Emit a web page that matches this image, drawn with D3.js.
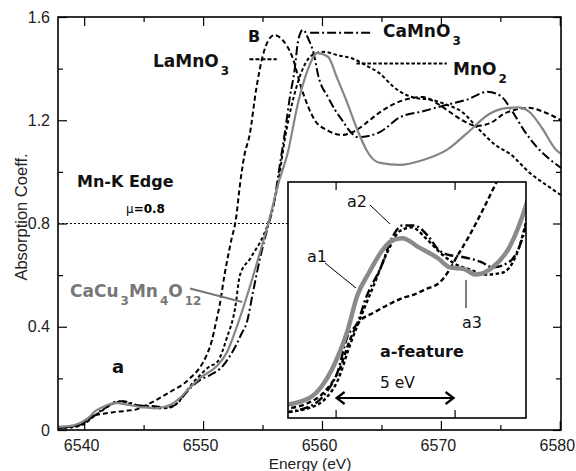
<!DOCTYPE html>
<html>
<head>
<meta charset="utf-8">
<script src="https://cdn.jsdelivr.net/npm/d3@7"></script>
<style>
  body { margin: 0; background: #fff; }
</style>
</head>
<body>
<div id="chart"></div>
<script>
const width = 576
const height = 471
const plot = { left: 58, right: 561, top: 17, bottom: 430 }
const box = { left: 288, right: 526, top: 182, bottom: 418 }

// [energy (eV), absorption]
const laMnO3 = [
  [6537.8, 0.010], [6538.8, 0.013], [6539.5, 0.019], [6540.2, 0.033], [6540.6, 0.048],
  [6541.0, 0.058], [6541.6, 0.063], [6542.3, 0.068], [6542.8, 0.071], [6543.3, 0.073],
  [6543.8, 0.076], [6544.4, 0.080], [6544.8, 0.087], [6545.1, 0.094], [6545.6, 0.105],
  [6546.2, 0.120], [6546.8, 0.136], [6547.5, 0.155], [6548.3, 0.177], [6549.0, 0.205],
  [6549.7, 0.240], [6550.3, 0.290], [6550.7, 0.340], [6551.1, 0.420], [6551.4, 0.485],
  [6551.8, 0.600], [6552.3, 0.720], [6552.8, 0.830], [6553.1, 0.950], [6553.5, 1.070],
  [6553.9, 1.140], [6554.5, 1.330], [6555.0, 1.446], [6555.5, 1.510], [6556.0, 1.530],
  [6556.7, 1.510], [6557.5, 1.446], [6558.3, 1.320], [6559.4, 1.200], [6560.5, 1.160],
  [6561.7, 1.143], [6563.0, 1.165], [6564.0, 1.200], [6565.0, 1.235], [6567.0, 1.280],
  [6568.5, 1.290], [6569.5, 1.270], [6570.5, 1.240], [6571.8, 1.200], [6573.0, 1.178],
  [6574.2, 1.190], [6575.3, 1.225], [6576.2, 1.240], [6577.4, 1.248], [6578.5, 1.235],
  [6580.1, 1.200]
]
const caMnO3 = [
  [6537.8, 0.008], [6539.0, 0.012], [6539.6, 0.019], [6540.1, 0.031], [6540.5, 0.050],
  [6540.9, 0.057], [6541.3, 0.072], [6541.9, 0.088], [6542.4, 0.105], [6542.8, 0.111],
  [6543.3, 0.111], [6543.9, 0.105], [6544.3, 0.098], [6544.7, 0.095], [6545.2, 0.094],
  [6546.1, 0.091], [6546.6, 0.088], [6547.3, 0.091], [6547.8, 0.102], [6548.5, 0.140],
  [6549.1, 0.170], [6549.8, 0.195], [6550.6, 0.213], [6551.7, 0.250], [6552.3, 0.290],
  [6552.8, 0.330], [6553.2, 0.370], [6553.7, 0.420], [6554.2, 0.535], [6554.8, 0.667],
  [6555.5, 0.795], [6555.9, 0.864], [6556.4, 1.010], [6556.9, 1.160], [6557.3, 1.290],
  [6557.7, 1.395], [6558.0, 1.510], [6558.4, 1.550], [6558.9, 1.510], [6559.3, 1.460],
  [6559.7, 1.370], [6560.5, 1.290], [6561.1, 1.240], [6561.7, 1.200], [6562.3, 1.160],
  [6563.0, 1.135], [6563.8, 1.138], [6564.9, 1.155], [6566.5, 1.210], [6568.5, 1.235],
  [6570.5, 1.260], [6572.2, 1.280], [6573.9, 1.310], [6575.0, 1.295], [6576.0, 1.235],
  [6577.0, 1.160], [6578.0, 1.100], [6579.0, 1.055], [6580.1, 1.015]
]
const mnO2 = [
  [6537.8, 0.008], [6539.0, 0.011], [6539.6, 0.016], [6540.1, 0.026], [6540.6, 0.045],
  [6541.1, 0.062], [6541.6, 0.078], [6542.2, 0.097], [6542.7, 0.108], [6543.2, 0.110],
  [6543.8, 0.104], [6544.4, 0.096], [6545.0, 0.090], [6545.6, 0.087], [6546.3, 0.084],
  [6547.0, 0.085], [6547.6, 0.095], [6548.3, 0.130], [6549.0, 0.175], [6549.7, 0.210],
  [6550.5, 0.245], [6551.2, 0.264], [6552.0, 0.357], [6552.7, 0.473], [6553.1, 0.600],
  [6554.0, 0.667], [6555.5, 0.806], [6556.2, 0.930], [6557.0, 1.160], [6557.8, 1.320],
  [6558.6, 1.420], [6559.5, 1.460], [6560.1, 1.465], [6561.5, 1.450], [6562.5, 1.440],
  [6563.8, 1.410], [6564.9, 1.380], [6566.0, 1.330], [6567.0, 1.300], [6568.0, 1.285],
  [6569.1, 1.280], [6570.5, 1.260], [6571.7, 1.235], [6573.3, 1.160], [6574.7, 1.100],
  [6575.8, 1.070], [6577.5, 0.995], [6579.0, 0.945], [6580.1, 0.910]
]
const caCu3Mn4O12 = [
  [6537.8, 0.012], [6538.9, 0.016], [6539.5, 0.024], [6540.0, 0.036], [6540.5, 0.053],
  [6540.9, 0.072], [6541.4, 0.085], [6542.0, 0.098], [6542.4, 0.103], [6542.8, 0.104],
  [6543.5, 0.099], [6544.3, 0.093], [6544.8, 0.088], [6545.4, 0.087], [6545.9, 0.084],
  [6546.6, 0.088], [6547.3, 0.099], [6548.0, 0.122], [6548.6, 0.150], [6549.7, 0.200],
  [6551.2, 0.250], [6552.0, 0.300], [6552.8, 0.395], [6553.7, 0.520], [6554.8, 0.690],
  [6555.6, 0.820], [6556.3, 0.950], [6557.1, 1.070], [6558.0, 1.270], [6558.8, 1.395],
  [6559.6, 1.460], [6560.5, 1.446], [6561.3, 1.360], [6562.1, 1.270], [6563.0, 1.160],
  [6563.8, 1.080], [6564.4, 1.045], [6564.9, 1.035], [6566.5, 1.027], [6568.5, 1.046],
  [6570.5, 1.085], [6572.2, 1.150], [6574.1, 1.225], [6575.2, 1.245], [6576.5, 1.250],
  [6577.5, 1.230], [6578.5, 1.170], [6579.7, 1.085], [6580.1, 1.070]
]

const xTicksMajor = [6540, 6550, 6560, 6570, 6580]
const xTicksMinor = [6545, 6555, 6565, 6575]
const yTicksMajor = [0, 0.4, 0.8, 1.2, 1.6]
const yTicksMinor = [0.2, 0.6, 1.0, 1.4]
const insetTicks = [6540, 6545]
const edgeLevel = 0.8

const labelFont = "'DejaVu Sans', sans-serif"
const tickFont = "'Liberation Sans', Arial, sans-serif"

const x = d3.scaleLinear([6537.8, 6580.1], [plot.left, plot.right])
const y = d3.scaleLinear([0, 1.6], [plot.bottom, plot.top])
const ix = d3.scaleLinear([6538, 6548], [box.left, box.right])
const iy = d3.scaleLinear([0.005, 0.135], [box.bottom, box.top])

const series = [
  { data: laMnO3, color: "#000", dash: "5,3" },
  { data: mnO2, color: "#000", dash: "3.5,2.5" },
  { data: caMnO3, color: "#000", dash: "9,3,2,3" },
  { data: caCu3Mn4O12, color: "#858585", dash: null },
]

const svg = d3.select("#chart").append("svg")
  .attr("width", width)
  .attr("height", height)
  .style("background", "#fff")

// axes
function styleAxis(g) {
  g.select(".domain").remove()
  g.selectAll("line").attr("stroke", "#000").attr("stroke-width", 1.2)
  g.attr("font-family", tickFont).attr("font-size", 16)
  g.selectAll("text").attr("fill", "#222")
}

svg.append("g")
  .attr("transform", `translate(0,${plot.bottom})`)
  .call(d3.axisBottom(x).tickValues(xTicksMajor).tickSize(-9).tickPadding(10).tickFormat(d3.format("d")))
  .call(styleAxis)
  .selectAll("text").attr("dx", -3)
svg.append("g")
  .attr("transform", `translate(0,${plot.bottom})`)
  .call(d3.axisBottom(x).tickValues(xTicksMinor).tickSize(-5).tickFormat(""))
  .call(styleAxis)
svg.append("g")
  .attr("transform", `translate(0,${plot.top})`)
  .call(d3.axisTop(x).tickValues(xTicksMajor).tickSize(-9).tickFormat(""))
  .call(styleAxis)
svg.append("g")
  .attr("transform", `translate(0,${plot.top})`)
  .call(d3.axisTop(x).tickValues(xTicksMinor).tickSize(-5).tickFormat(""))
  .call(styleAxis)

svg.append("g")
  .attr("transform", `translate(${plot.left},0)`)
  .call(d3.axisLeft(y).tickValues(yTicksMajor).tickSize(-9).tickPadding(8)
    .tickFormat(d => d === 0 ? "0" : d.toFixed(1)))
  .call(styleAxis)
svg.append("g")
  .attr("transform", `translate(${plot.left},0)`)
  .call(d3.axisLeft(y).tickValues(yTicksMinor).tickSize(-5).tickFormat(""))
  .call(styleAxis)
svg.append("g")
  .attr("transform", `translate(${plot.right},0)`)
  .call(d3.axisRight(y).tickValues(yTicksMajor).tickSize(-8).tickFormat(""))
  .call(styleAxis)
svg.append("g")
  .attr("transform", `translate(${plot.right},0)`)
  .call(d3.axisRight(y).tickValues(yTicksMinor).tickSize(-5).tickFormat(""))
  .call(styleAxis)

svg.append("text")
  .attr("x", 310)
  .attr("y", 469)
  .attr("text-anchor", "middle")
  .attr("font-family", tickFont)
  .attr("font-size", 15.5)
  .attr("fill", "#222")
  .text("Energy (eV)")

svg.append("text")
  .attr("transform", "translate(27,217) rotate(-90)")
  .attr("text-anchor", "middle")
  .attr("font-family", tickFont)
  .attr("font-size", 16.5)
  .attr("fill", "#222")
  .text("Absorption Coeff.")

// mu = 0.8 guide
svg.append("line")
  .attr("x1", plot.left).attr("x2", box.left)
  .attr("y1", y(edgeLevel)).attr("y2", y(edgeLevel))
  .attr("stroke", "#000").attr("stroke-width", 1)
  .attr("stroke-dasharray", "2,2")

// main curves
const line = d3.line().x(d => x(d[0])).y(d => y(d[1])).curve(d3.curveMonotoneX)
svg.append("g")
  .selectAll("path")
  .data(series)
  .enter()
  .append("path")
  .attr("d", d => line(d.data))
  .attr("fill", "none")
  .attr("stroke", d => d.color)
  .attr("stroke-width", d => d.dash ? 2 : 2.2)
  .attr("stroke-dasharray", d => d.dash)

svg.append("rect")
  .attr("x", plot.left).attr("y", plot.top)
  .attr("width", plot.right - plot.left).attr("height", plot.bottom - plot.top)
  .attr("fill", "none").attr("stroke", "#000").attr("stroke-width", 1.6)

// labels on the main plot
function label(tx, ty, parts, opts = {}) {
  const t = svg.append("text")
    .attr("x", tx).attr("y", ty)
    .attr("font-family", labelFont)
    .attr("font-size", opts.size || 17)
    .attr("font-weight", opts.weight || "bold")
    .attr("fill", opts.fill || "#111")
  parts.forEach(([s, sub]) => {
    t.append("tspan")
      .attr("font-size", sub ? 12 : null)
      .attr("dy", sub ? 8 : (sub === false ? -8 : 0))
      .attr("dx", sub ? 2 : 0)
      .text(s)
  })
  return t
}
label(153, 67, [["LaMnO"], ["3", true]])
label(383, 37, [["CaMnO"], ["3", true]])
label(453, 75, [["MnO"], ["2", true]])
label(248, 42, [["B"]], { size: 16 })
label(77, 187, [["Mn-K Edge"]], { size: 16 })
label(112, 373, [["a"]], { size: 18 })
label(70, 297, [["CaCu"], ["3", true], ["Mn", false], ["4", true], ["O", false], ["12", true]],
  { fill: "#777", size: 17 })
const mu = svg.append("text").attr("x", 126).attr("y", 213)
  .attr("font-family", labelFont).attr("font-size", 12)
mu.append("tspan").text("\u03bc")
mu.append("tspan").attr("font-weight", "bold").text("=0.8")

// legend leaders
const leader = (a, b, dash, color = "#000") => svg.append("line")
  .attr("x1", x(a[0])).attr("y1", y(a[1])).attr("x2", x(b[0])).attr("y2", y(b[1]))
  .attr("stroke", color).attr("stroke-width", 2).attr("stroke-dasharray", dash)
leader([6553.9, 1.436], [6556.2, 1.436], "4,2")
leader([6559.0, 1.539], [6564.2, 1.539], "9,3,2,3")
leader([6562.9, 1.420], [6570.5, 1.420], "3.5,2")
leader([6548.9, 0.548], [6553.3, 0.496], null, "#777")

// inset
svg.append("rect")
  .attr("x", box.left).attr("y", box.top)
  .attr("width", box.right - box.left).attr("height", box.bottom - box.top)
  .attr("fill", "#fff")
svg.append("clipPath").attr("id", "insetClip")
  .append("rect")
  .attr("x", box.left).attr("y", box.top)
  .attr("width", box.right - box.left).attr("height", box.bottom - box.top)

const insetLine = d3.line().x(d => ix(d[0])).y(d => iy(d[1])).curve(d3.curveMonotoneX)
svg.append("g")
  .attr("clip-path", "url(#insetClip)")
  .selectAll("path")
  .data(series)
  .enter()
  .append("path")
  .attr("d", d => insetLine(d.data))
  .attr("fill", "none")
  .attr("stroke", d => d.dash ? "#000" : "#8a8a8a")
  .attr("stroke-width", d => d.dash ? 2.4 : 4.5)
  .attr("stroke-dasharray", d => d.dash)

svg.append("g")
  .attr("transform", `translate(0,${box.bottom})`)
  .call(d3.axisBottom(ix).tickValues(insetTicks).tickSize(-8).tickFormat(""))
  .call(styleAxis)
svg.append("g")
  .attr("transform", `translate(0,${box.top})`)
  .call(d3.axisTop(ix).tickValues(insetTicks).tickSize(-8).tickFormat(""))
  .call(styleAxis)
svg.append("rect")
  .attr("x", box.left).attr("y", box.top)
  .attr("width", box.right - box.left).attr("height", box.bottom - box.top)
  .attr("fill", "none").attr("stroke", "#000").attr("stroke-width", 1.6)

const thin = (x1, y1, x2, y2) => svg.append("line")
  .attr("x1", x1).attr("y1", y1).attr("x2", x2).attr("y2", y2)
  .attr("stroke", "#000").attr("stroke-width", 1)
thin(325, 263, 356, 288)
thin(370, 205, 390, 224)
thin(466, 280, 466, 308)
label(307, 262, [["a1"]], { size: 16, weight: "normal" })
label(347, 207, [["a2"]], { size: 16, weight: "normal" })
label(462, 328, [["a3"]], { size: 16, weight: "normal" })
label(380, 357, [["a-feature"]], { size: 16 })
label(380, 388, [["5 eV"]], { size: 15.5, weight: "normal" })

// 5 eV arrow
const ay = 398
const a0 = ix(6540) + 1, a1 = ix(6545) - 1
svg.append("path")
  .attr("d", `M${a0},${ay}H${a1}M${a0 + 8},${ay - 6}L${a0},${ay}L${a0 + 8},${ay + 6}` +
    `M${a1 - 8},${ay - 6}L${a1},${ay}L${a1 - 8},${ay + 6}`)
  .attr("fill", "none").attr("stroke", "#000").attr("stroke-width", 2.2)
</script>
</body>
</html>
